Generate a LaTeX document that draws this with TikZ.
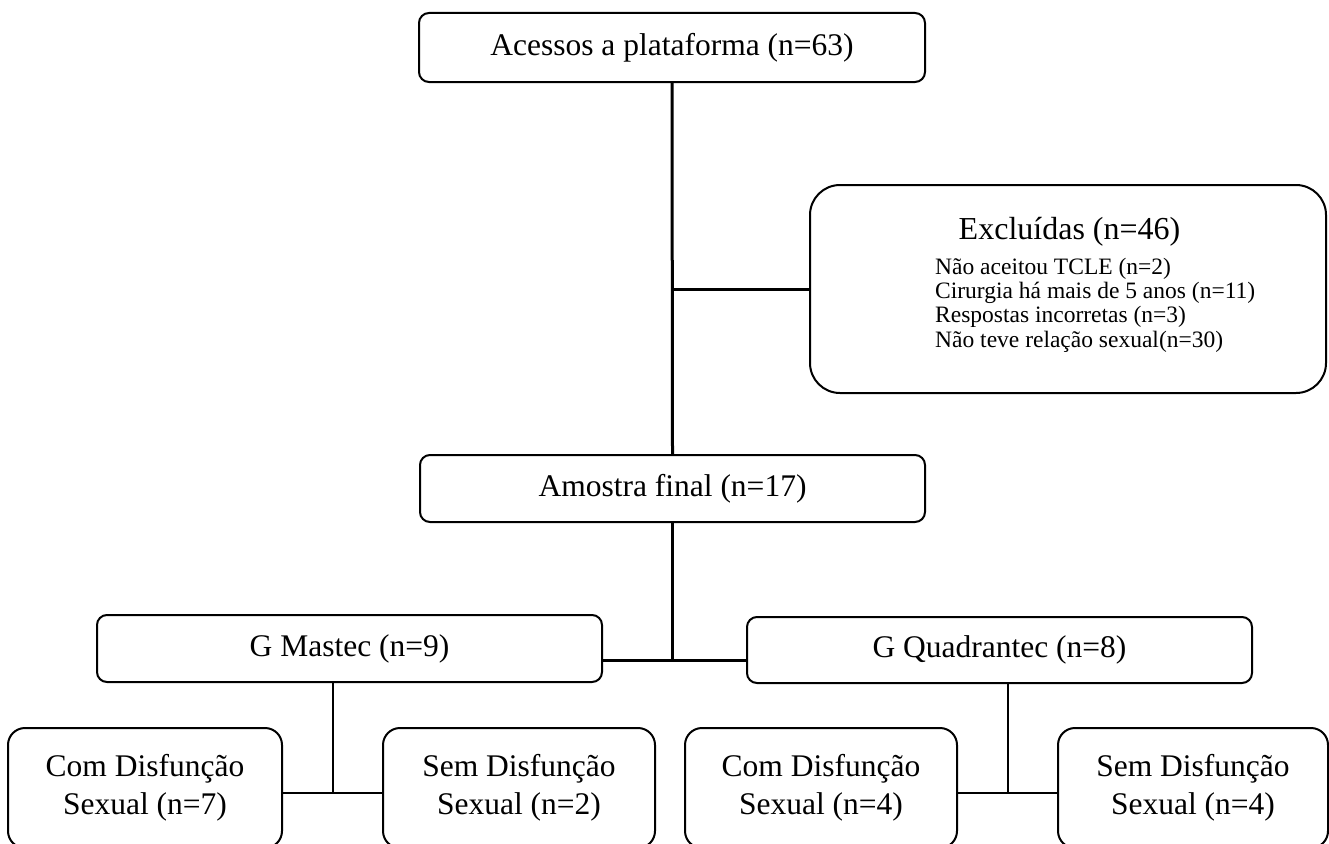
\documentclass[tikz,border=0pt]{standalone}
\usepackage{fontspec}
\setmainfont{Liberation Serif}
\usepackage{tikz}

\begin{document}
\begin{tikzpicture}[
  x=1pt, y=-1pt,
  box/.style={draw, line width=2pt, rounded corners=10pt, inner sep=0pt,
              align=center, font=\fontsize{31.5}{38}\selectfont},
  leaf/.style={box, rounded corners=17pt, minimum width=272pt, minimum height=120pt},
  trunk/.style={line width=3pt},
  link/.style={line width=2pt},
]
\useasboundingbox (0,0) rectangle (1329,843);
\node[box, minimum width=506pt, minimum height=69pt] (acessos) at (672,47.5) {Acessos a plataforma (n=63)};
\node[box, rounded corners=30pt, minimum width=516pt, minimum height=208pt] (excl) at (1068,289) {};
\node[anchor=base, font=\fontsize{32}{38}\selectfont] (excltitle) at (1069.5,239) {Excluídas (n=46)};
\node[anchor=base west, align=left, inner sep=0pt, font=\fontsize{23.5}{24.2}\selectfont] (excllist) at (935,347)
  {Não aceitou TCLE (n=2)\\Cirurgia há mais de 5 anos (n=11)\\Respostas incorretas (n=3)\\Não teve relação sexual(n=30)};
\node[box, minimum width=505pt, minimum height=67pt] (amostra) at (672.5,488.5) {Amostra final (n=17)};
\node[box, minimum width=505pt, minimum height=67pt] (mastec) at (349.5,648.5) {G Mastec (n=9)};
\node[box, minimum width=505pt, minimum height=66pt] (quadrantec) at (999.5,650) {G Quadrantec (n=8)};
\node[leaf, minimum width=274pt] (mcom) at (145,788) {Com Disfunção\\Sexual (n=7)};
\node[leaf] (msem) at (519,788) {Sem Disfunção\\Sexual (n=2)};
\node[leaf] (qcom) at (821,788) {Com Disfunção\\Sexual (n=4)};
\node[leaf, minimum width=270pt] (qsem) at (1193,788) {Sem Disfunção\\Sexual (n=4)};
% junctions
\coordinate (split) at (672.5,660);
\coordinate (mjoin) at (333,793);
\coordinate (qjoin) at (1008,793);
\draw[trunk] (acessos.south) -- (amostra.north);
\draw[trunk] (acessos.south |- excl.west) -- (excl.west);
\draw[trunk] (amostra.south) -- (split);
\draw[trunk] (mastec.east |- split) -- (quadrantec.west |- split);
\draw[link] (mastec.south -| mjoin) -- (mjoin);
\draw[link] (mcom.east |- mjoin) -- (msem.west |- mjoin);
\draw[link] (quadrantec.south -| qjoin) -- (qjoin);
\draw[link] (qcom.east |- qjoin) -- (qsem.west |- qjoin);
\end{tikzpicture}
\end{document}
